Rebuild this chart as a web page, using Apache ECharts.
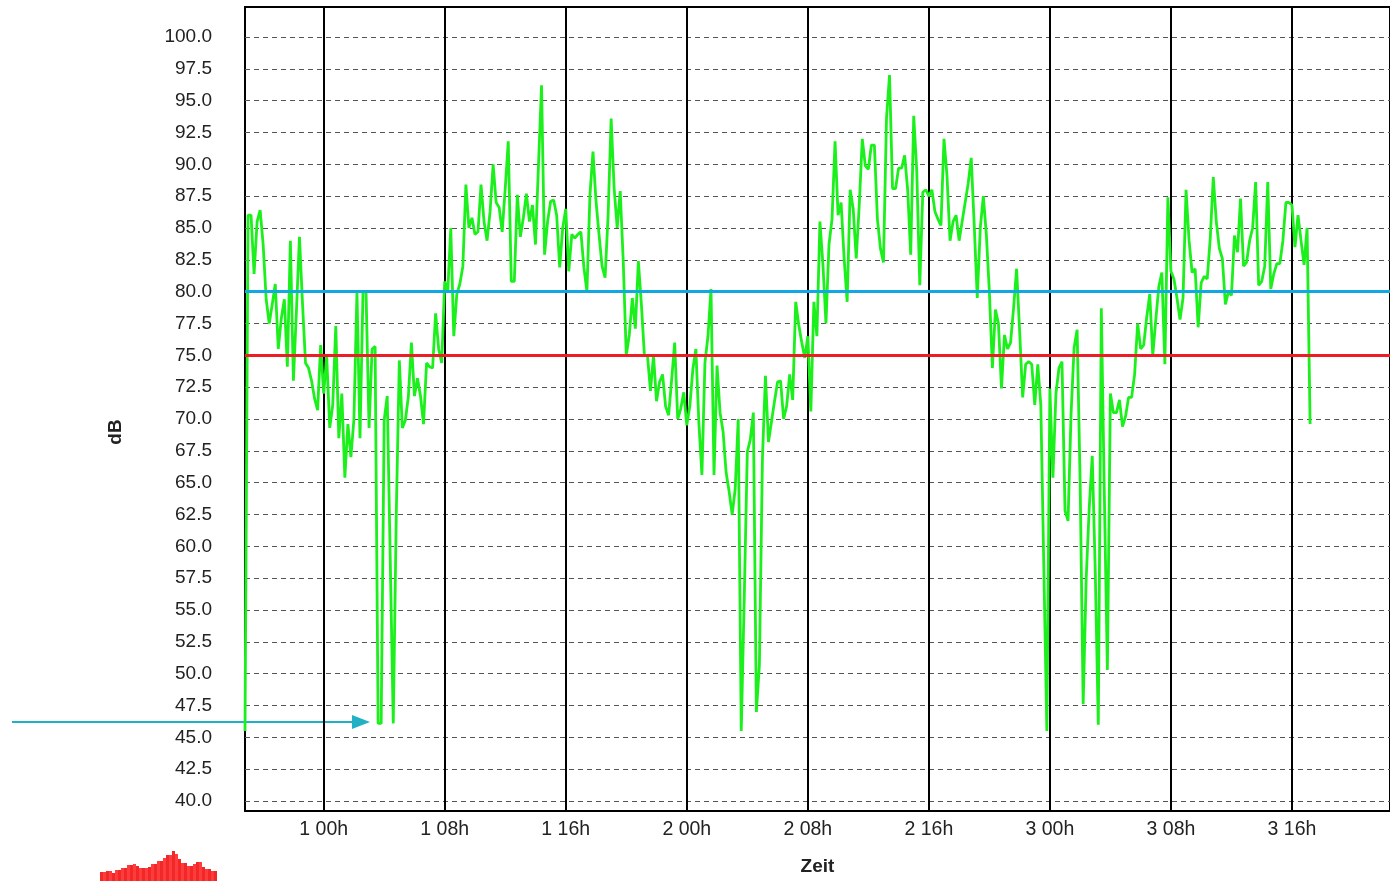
<!DOCTYPE html>
<html>
<head>
<meta charset="utf-8">
<script src="https://cdn.jsdelivr.net/npm/echarts@6/dist/echarts.min.js"></script>
<style>
html, body { margin: 0; padding: 0; background: #fff; }
#chart { width: 1390px; height: 881px; }
</style>
</head>
<body>
<div id="chart"></div>
<script>
// Messwerte: Pegel in dB, alle 12 Minuten ab Tag 0, 18:48
var startHour = 18.8;
var stepHours = 0.2;
var levelDb = [
  // 0 18h48 .. 0 23h48
  45.5, 86, 86, 81.4, 85.5, 86.4, 83.7, 79.4, 77.5, 79, 80.6, 75.5, 77.9, 79.4, 74.1, 84, 73, 78.5, 84.3, 79.1, 74.4, 74, 73, 71.6, 70.7, 75.8,
  // 1 00h .. 1 07h48
  72, 74.9, 69.3, 71.1, 77.3, 68.5, 72, 65.4, 69.6, 67, 70, 80, 68.5, 80, 80, 69.3, 75.5, 75.7, 46.1, 46.1,
  69.9, 71.8, 59, 46.1, 62.6, 74.6, 69.3, 69.9, 71.8, 76, 71.8, 73.2, 71.8, 69.6, 74.4, 74.1, 74, 78.3, 75.5, 74.4,
  // 1 08h .. 1 15h48
  80.8, 80, 85, 76.5, 79.8, 80.6, 82, 88.4, 85, 85.8, 84.5, 84.7, 88.4, 85.5, 84, 86.3, 90, 87, 86.6, 84.7,
  88.1, 91.8, 80.8, 80.8, 87.6, 84.3, 85.8, 87.7, 85.5, 86.8, 83.7, 90, 96.2, 82.9, 85.5, 87.1, 87.2, 86, 81.9, 85,
  // 1 16h .. 1 23h48
  86.5, 81.6, 84.5, 84.2, 84.5, 84.7, 81.9, 80, 87.6, 91, 87.1, 84.5, 82, 81.1, 86, 93.6, 88.1, 85, 87.9, 82.4,
  75, 76.6, 79.5, 77.1, 82.4, 79, 75, 75, 72.2, 75, 71.4, 72.9, 73.5, 71, 70.3, 73.1, 76, 70, 70.8, 72.1,
  // 2 00h .. 2 07h48
  69.5, 71, 73.9, 75.5, 69.7, 65.6, 74.4, 76.5, 80.2, 65.6, 74.2, 70.5, 69, 65.8, 64.3, 62.5, 64.5, 70, 45.5, 56,
  67.4, 68.4, 70.5, 47, 50.7, 66.9, 73.4, 68.2, 69.8, 71.4, 72.9, 73, 70, 71, 73.5, 71.5, 79.2, 77.4, 76, 74.8,
  // 2 08h .. 2 15h48
  76.5, 70.6, 79.2, 76.5, 85.5, 82.1, 77.5, 83.7, 85.7, 91.8, 86, 87, 82.6, 79.2, 88, 86.5, 82.6, 86.8, 92, 89.9,
  89.6, 91.5, 91.5, 85.7, 83.4, 82.3, 93.6, 97, 88.1, 88.1, 89.7, 89.7, 90.7, 88, 82.9, 93.8, 89.5, 80.5, 87.8, 88,
  // 2 16h .. 2 23h48
  87.5, 88, 86.3, 85.7, 85.2, 92, 89.1, 84, 85.5, 86, 84, 85.5, 87, 88.5, 90.5, 85.2, 79.5, 85, 87.5, 84.5,
  80, 74, 78.6, 77.5, 72.4, 76.6, 75.5, 76, 78.7, 81.8, 76.9, 71.7, 74.3, 74.5, 74.3, 71.1, 74.3, 71.1, 58.3, 45.5,
  // 3 00h .. 3 07h48
  72.4, 65.4, 72, 74, 74.5, 62.8, 62, 70.4, 75.6, 77, 65, 47.6, 57.5, 63, 67.1, 58, 46, 78.7, 64, 50.3,
  72, 70.5, 70.5, 71.5, 69.4, 70.2, 71.7, 71.7, 73.5, 77.5, 75.5, 75.8, 78, 79.8, 75, 77.8, 80.4, 81.5, 74.3, 87.4,
  // 3 08h .. 3 15h48
  81.6, 81, 79.5, 77.8, 79.5, 88, 84, 81.5, 81.8, 77.2, 80.7, 81.2, 81, 84.2, 89, 85.5, 83.4, 82.6, 79, 80,
  79.7, 84.4, 83.1, 87.3, 82, 82.3, 84, 85, 88.6, 80.5, 80.8, 82, 88.6, 80.2, 81.4, 82.2, 82.2, 84, 87, 87,
  // 3 16h ..
  86.8, 83.5, 86, 84, 82.1, 85, 69.6
];

var yTicks = [40.0, 42.5, 45.0, 47.5, 50.0, 52.5, 55.0, 57.5, 60.0, 62.5, 65.0, 67.5, 70.0,
  72.5, 75.0, 77.5, 80.0, 82.5, 85.0, 87.5, 90.0, 92.5, 95.0, 97.5, 100.0];
var xTicks = [24, 32, 40, 48, 56, 64, 72, 80, 88];   // 1 00h ... 3 16h
var limitRed = 75;
var limitBlue = 80;

// kleines Logo unten links (Balkenhoehen in px)
var logoBars = [9, 9, 10, 10, 8, 11, 11, 13, 13, 16, 16, 17, 15, 13, 13, 13, 14, 17, 17, 20,
  20, 23, 26, 26, 30, 27, 22, 18, 18, 15, 15, 17, 19, 19, 14, 12, 12, 10, 10];

var points = levelDb.map(function (v, i) {
  return [startHour + i * stepHours, v];
});

function hourLabel(v) {
  var d = Math.floor(v / 24);
  var h = Math.round(v - d * 24);
  return d + ' ' + (h < 10 ? '0' + h : h) + 'h';
}

var logo = logoBars.map(function (h, i) {
  return {
    type: 'rect',
    shape: { x: 100 + i * 3, y: 881 - h, width: 3, height: h },
    style: { fill: i % 2 ? '#ff3b3b' : '#f02828' }
  };
});

var ec = echarts.init(document.getElementById('chart'));
ec.setOption({
  animation: false,
  grid: {
    left: 245,
    right: -2,
    top: 7,
    bottom: 68,
    show: true,
    borderColor: '#000',
    borderWidth: 2,
    backgroundColor: '#fff'
  },
  xAxis: {
    type: 'value',
    min: 18.8,
    max: 94.48,
    name: 'Zeit',
    nameLocation: 'middle',
    nameGap: 46,
    nameTextStyle: {
      fontFamily: 'Liberation Sans',
      fontWeight: 'bold',
      fontSize: 19,
      color: '#222'
    },
    axisLine: { show: false },
    axisTick: { show: false, customValues: xTicks },
    axisLabel: {
      customValues: xTicks,
      formatter: hourLabel,
      fontFamily: 'Liberation Sans',
      fontSize: 19.5,
      color: '#222',
      margin: 9
    },
    splitLine: {
      show: true,
      lineStyle: { color: '#000', width: 2 }
    }
  },
  yAxis: {
    type: 'value',
    min: 39.22,
    max: 102.35,
    name: 'dB',
    nameLocation: 'middle',
    nameRotate: 90,
    nameGap: 120,
    nameTextStyle: {
      fontFamily: 'Liberation Sans',
      fontWeight: 'bold',
      fontSize: 19,
      color: '#222',
      padding: [0, 46, 0, 0]
    },
    axisLine: { show: false },
    axisTick: { show: false, customValues: yTicks },
    axisLabel: {
      customValues: yTicks,
      formatter: function (v) { return v.toFixed(1); },
      fontFamily: 'Liberation Sans',
      fontSize: 19,
      color: '#222',
      margin: 33
    },
    splitLine: {
      show: true,
      lineStyle: { color: '#555', width: 1, type: [5, 4] }
    }
  },
  series: [{
    name: 'Pegel',
    type: 'line',
    data: points,
    symbol: 'none',
    lineStyle: { color: '#1cf01c', width: 2.8 },
    z: 2
  }, {
    name: 'Grenzwerte',
    type: 'line',
    data: [],
    symbol: 'none',
    z: 3,
    markLine: {
      silent: true,
      symbol: ['none', 'none'],
      label: { show: false },
      lineStyle: { type: 'solid', width: 3 },
      data: [
        { yAxis: limitBlue, lineStyle: { color: '#11a7e2', type: 'solid', width: 3 } },
        { yAxis: limitRed, lineStyle: { color: '#ee1c24', type: 'solid', width: 3 } }
      ]
    }
  }],
  graphic: [{
    type: 'group',
    children: [{
      type: 'line',
      shape: { x1: 12, y1: 722, x2: 356, y2: 722 },
      style: { stroke: '#20b2c4', lineWidth: 2 }
    }, {
      type: 'polygon',
      shape: { points: [[352, 715], [370, 722], [352, 729]] },
      style: { fill: '#20b2c4' }
    }]
  }, {
    type: 'group',
    children: logo
  }]
});
</script>
</body>
</html>
